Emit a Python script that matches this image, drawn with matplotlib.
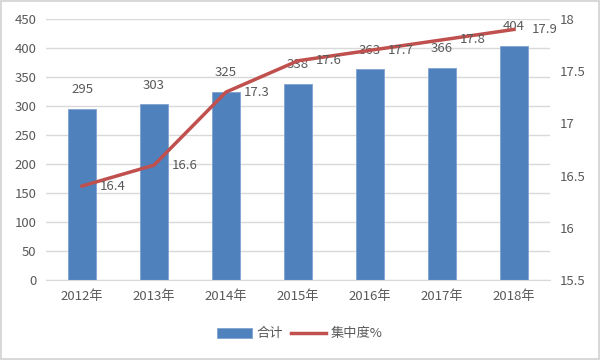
import matplotlib
matplotlib.use("Agg")
import matplotlib.pyplot as plt
from matplotlib.ticker import FuncFormatter

plt.rcParams['font.family'] = ['Noto Sans CJK SC', 'DejaVu Sans']

years = ["2012年", "2013年", "2014年", "2015年", "2016年", "2017年", "2018年"]
totals = [295, 303, 325, 338, 363, 366, 404]
concentration = [16.4, 16.6, 17.3, 17.6, 17.7, 17.8, 17.9]

bar_color = "#4F81BD"
line_color = "#C0504D"
text_color = "#595959"
grid_color = "#D9D9D9"
fs = 9.5

fig = plt.figure(figsize=(6, 3.6), dpi=100)
fig.patch.set_facecolor("white")
fig.patch.set_edgecolor("#D9D9D9")
fig.patch.set_linewidth(1.5)

ax = fig.add_axes([46 / 600, 80 / 360, 504 / 600, 261 / 360])
x = list(range(len(years)))
bars = ax.bar(x, totals, width=0.4, color=bar_color, edgecolor="#7FA3D0",
              linewidth=0.6, zorder=2, label="合计")
ax.set_xlim(-0.5, len(years) - 0.5)
ax.set_ylim(0, 450)
ax.set_yticks(range(0, 451, 50))
ax.set_xticks(x)
ax.set_xticklabels(years)
ax.grid(axis="y", color=grid_color, linewidth=1, zorder=0)
for s in ["top", "right", "left"]:
    ax.spines[s].set_visible(False)
ax.spines["bottom"].set_color(grid_color)
ax.tick_params(axis="both", length=0, labelsize=fs, colors=text_color)
ax.tick_params(axis="x", pad=7)
ax.tick_params(axis="y", pad=7)

for xi, v in zip(x, totals):
    ax.annotate(f"{v}", (xi, v), xytext=(0, 9), textcoords="offset points",
                ha="center", va="bottom", fontsize=fs, color=text_color, zorder=4)

ax2 = ax.twinx()
line, = ax2.plot(x, concentration, color=line_color, linewidth=2.5, zorder=3,
                 label="集中度%")
ax2.set_ylim(15.5, 18)
ax2.set_yticks([15.5, 16, 16.5, 17, 17.5, 18])
ax2.yaxis.set_major_formatter(FuncFormatter(lambda v, p: f"{v:g}"))
for s in ["top", "right", "left", "bottom"]:
    ax2.spines[s].set_visible(False)
ax2.tick_params(axis="y", length=0, labelsize=fs, colors=text_color, pad=7)

for xi, v in zip(x, concentration):
    ax2.annotate(f"{v}", (xi, v), xytext=(13, 0), textcoords="offset points",
                 ha="left", va="center", fontsize=fs, color=text_color, zorder=4)

fig.legend(handles=[bars, line], labels=["合计", "集中度%"], loc="center",
           bbox_to_anchor=(0.5, 1 - 334 / 360), ncol=2, frameon=False,
           fontsize=fs, labelcolor=text_color, handlelength=2.6,
           handleheight=0.8, columnspacing=0.6, handletextpad=0.4)

fig.savefig("out.png", dpi=100)
